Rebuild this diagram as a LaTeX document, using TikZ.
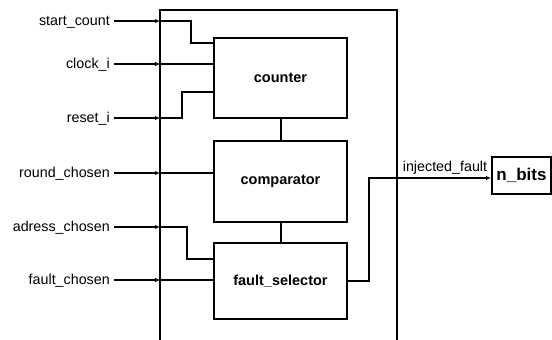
\documentclass[tikz,border=0pt]{standalone}
\usepackage{fontspec}
\setmainfont{Liberation Sans}
\usetikzlibrary{arrows.meta}
\begin{document}
\begin{tikzpicture}[x=1pt,y=-1pt,
  wire/.style={line width=2pt},
  tip/.style={-{Latex[length=5pt,width=4.5pt]}},
  inarrow/.style={wire,tip,shorten <=4pt},
  lbl/.style={font=\fontsize{14.3}{16}\selectfont,inner sep=0pt,anchor=base east},
  blk/.style={draw,line width=2pt,font=\fontsize{14.5}{16}\selectfont\bfseries,inner sep=0pt,minimum width=133pt}]
\useasboundingbox (0,0) rectangle (552,340);
% outer box (open at bottom)
\draw[wire] (160,345) -- (160,10) -- (397,10) -- (397,345);
% blocks
\node[blk,minimum height=80pt] (cnt) at (280.5,78) {counter};
\node[blk,minimum height=81pt] (cmp) at (280.5,181) {comparator};
\node[blk,minimum height=76pt] (fs) at (280.5,281) {fault\_selector};
\node[blk,minimum width=59pt,minimum height=37pt,font=\fontsize{17}{19}\selectfont\bfseries] (nb) at (521.5,175) {n\_bits};
\draw[wire] (cnt.south) -- (cmp.north);
\draw[wire] (cmp.south) -- (fs.north);
% input labels
\node[lbl] (l1) at (110,25.5) {start\_count};
\node[lbl] (l2) at (110,68.5) {clock\_i};
\node[lbl] (l3) at (110,122.5) {reset\_i};
\node[lbl] (l4) at (110,177.5) {round\_chosen};
\node[lbl] (l5) at (110,231.5) {adress\_chosen};
\node[lbl] (l6) at (110,284.5) {fault\_chosen};
% entry points on outer box
\coordinate (e1) at (160,21);
\coordinate (e2) at (160,64);
\coordinate (e3) at (160,118);
\coordinate (e4) at (160,173);
\coordinate (e5) at (160,227);
\coordinate (e6) at (160,280);
\draw[inarrow] (l1.east |- e1) -- (e1);
\draw[inarrow] (l2.east |- e2) -- (e2);
\draw[inarrow] (l3.east |- e3) -- (e3);
\draw[inarrow] (l4.east |- e4) -- (e4);
\draw[inarrow] (l5.east |- e5) -- (e5);
\draw[inarrow] (l6.east |- e6) -- (e6);
% internal routing
\coordinate (b1) at (191,43);
\coordinate (b3) at (182,92);
\coordinate (b5) at (187,259);
\draw[wire] (e1) -| (b1) -- (b1 -| cnt.west);
\draw[wire] (e2) -- (e2 -| cnt.west);
\draw[wire] (e3) -| (b3) -- (b3 -| cnt.west);
\draw[wire] (e4) -- (e4 -| cmp.west);
\draw[wire] (e5) -| (b5) -- (b5 -| fs.west);
\draw[wire] (e6) -- (e6 -| fs.west);
% output
\coordinate (ob) at (369,178);
\draw[wire,tip] (fs.east) -| (ob) -- (ob -| nb.west);
\node[font=\fontsize{14.3}{16}\selectfont,inner sep=0pt,anchor=base] (of) at (445,171) {injected\_fault};
\end{tikzpicture}
\end{document}
